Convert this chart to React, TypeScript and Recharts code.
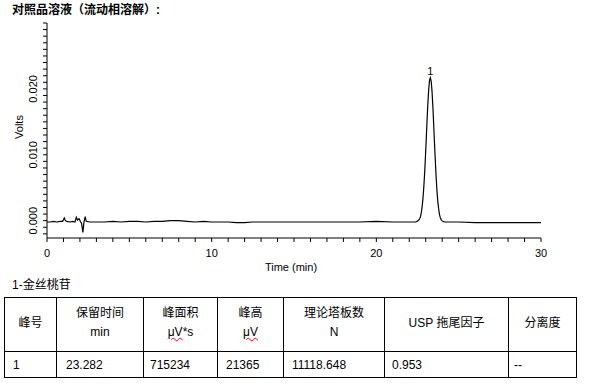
import React from "react";
import { LineChart, Line, XAxis, YAxis, ReferenceDot } from "recharts";

// Chromatogram trace (time in min, signal in volts)
const times = [
  0, 0.2, 0.4, 0.6, 0.8, 0.95, 1.05, 1.12, 1.2, 1.4, 1.55, 1.7, 1.78, 1.85, 1.95, 2.02, 2.1, 2.18,
  2.24, 2.32, 2.38, 2.6, 2.8, 3, 3.5, 4, 4.5, 5, 5.5, 6, 6.5, 7, 7.5, 8, 8.5, 9, 9.5, 10, 10.5, 11,
  11.5, 12, 12.5, 13, 14, 15, 16, 17, 18, 19, 20, 21, 22, 22.38, 22.48, 22.58, 22.63, 22.68, 22.73,
  22.78, 22.83, 22.88, 22.93, 22.98, 23.03, 23.08, 23.13, 23.18, 23.23, 23.28, 23.33, 23.38, 23.43,
  23.48, 23.53, 23.58, 23.63, 23.68, 23.73, 23.78, 23.83, 23.88, 23.93, 23.98, 24.08, 24.18, 25, 26,
  27, 28, 29, 30,
];
const volts = [
  -0.0002, -0.0002, -0.0001, -0.0002, -0.0001, -0.0001, 0.0004, 0.0, -0.0001, -0.0002, -0.0001,
  -0.0002, 0.0005, 0.0001, 0.0003, -0.0001, -0.0004, -0.0018, -0.0003, 0.0006, -0.0001, -0.0002,
  -0.0002, -0.0002, -0.0002, -0.0001, -0.0002, -0.0001, -0.0001, -0.0002, -0.0001, -0.0001, 0.0,
  0.0, -0.0001, -0.0002, -0.0001, -0.0002, -0.0002, -0.0002, -0.0003, -0.0003, -0.0002, -0.0002,
  -0.0002, -0.0002, -0.0002, -0.0002, -0.0002, -0.0002, -0.0001, -0.0002, -0.0002, -0.0002,
  -0.0001, 0.0001, 0.0003, 0.0006, 0.0012, 0.0021, 0.0033, 0.005, 0.0071, 0.0096, 0.0123, 0.0152,
  0.0178, 0.0199, 0.0213, 0.0217, 0.0212, 0.0197, 0.0175, 0.0148, 0.0119, 0.0092, 0.0067, 0.0046,
  0.003, 0.0019, 0.001, 0.0005, 0.0002, 0.0, -0.00015, -0.0002, -0.0002, -0.0003, -0.0003,
  -0.0003, -0.0003, -0.0003,
];

// Axes
const xMajor = [0, 10, 20, 30];
const xTicks = Array.from({ length: 31 }, (_, i) => i);
const yMajor = [0, 0.01, 0.02];
const yTicks = Array.from({ length: 33 }, (_, i) => (i - 2) / 1000);

// Peak
const peakName = "1";
const peakTime = 23.28;
const peakApex = 0.0217;

// Result table
const headerLine1 = ["峰号", "保留时间", "峰面积", "峰高", "理论塔板数", "USP 拖尾因子", "分离度"];
const headerLine2 = ["", "min", "μV*s", "μV", "N", "", ""];
const rowValues = ["1", "23.282", "715234", "21365", "11118.648", "0.953", "--"];
const colWidths = [52, 87, 74, 66, 101, 124, 68];
const cellPad = [8, 9, 6, 8, 8, 7, 5];

const data = times.map((t, i) => ({ t, v: volts[i] }));

const FONT = "'Liberation Sans', Arial, 'Noto Sans CJK SC', sans-serif";

const XTick = (props: any) => {
  const { x, payload } = props;
  if (!xMajor.includes(payload.value)) return null;
  return (
    <text x={x} y={253} dy="0.35em" textAnchor="middle" fontSize={11} fontFamily={FONT} fill="#000">
      {payload.value}
    </text>
  );
};

const YTick = (props: any) => {
  const { y, payload } = props;
  const isMajor = yMajor.some((m) => Math.abs(m - payload.value) < 1e-9);
  if (!isMajor) return null;
  return (
    <text
      x={0}
      y={0}
      transform={`translate(33, ${y}) rotate(-90)`}
      dy="0.35em"
      textAnchor="middle"
      fontSize={11}
      fontFamily={FONT}
      fill="#000"
    >
      {payload.value.toFixed(3)}
    </text>
  );
};

const wavy: React.CSSProperties = {
  textDecorationLine: "underline",
  textDecorationStyle: "wavy",
  textDecorationColor: "#e00",
  textDecorationThickness: 1,
};

const App = () => {
  return (
    <div
      style={{
        position: "absolute",
        left: 0,
        top: 0,
        width: 590,
        height: 387,
        background: "#fff",
        fontFamily: FONT,
        color: "#000",
      }}
    >
      <div style={{ position: "absolute", left: 12, top: 3, fontSize: 12, fontWeight: 700, lineHeight: "15px" }}>
        对照品溶液（流动相溶解）:
      </div>

      <div style={{ position: "absolute", left: 0, top: 0 }}>
        <LineChart width={590} height={290} data={data} margin={{ top: 23, right: 49, bottom: 22, left: 17 }}>
          <XAxis
            dataKey="t"
            type="number"
            domain={[0, 30]}
            ticks={xTicks}
            interval={0}
            tick={<XTick />}
            tickSize={4}
            height={30}
            axisLine={{ stroke: "#000" }}
            tickLine={{ stroke: "#000" }}
          />
          <YAxis
            type="number"
            domain={[-0.00263, 0.03]}
            ticks={yTicks}
            interval={0}
            tick={<YTick />}
            tickSize={4}
            width={30}
            allowDataOverflow
            axisLine={{ stroke: "#000" }}
            tickLine={{ stroke: "#000" }}
          />
          <Line
            type="linear"
            dataKey="v"
            stroke="#000"
            strokeWidth={1.2}
            dot={false}
            isAnimationActive={false}
          />
          <ReferenceDot
            x={peakTime}
            y={peakApex}
            r={0}
            fill="none"
            stroke="none"
            label={{ value: peakName, position: "top", offset: 3, fontSize: 11, fontFamily: FONT, fill: "#000" }}
          />
        </LineChart>
      </div>

      <div
        style={{
          position: "absolute",
          left: 8,
          top: 127,
          fontSize: 11,
          transform: "translate(-50%, -50%) rotate(-90deg)",
          marginLeft: 11,
          whiteSpace: "nowrap",
        }}
      >
        Volts
      </div>
      <div
        style={{
          position: "absolute",
          left: 291,
          top: 267,
          fontSize: 11,
          transform: "translate(-50%, -50%)",
          whiteSpace: "nowrap",
        }}
      >
        Time (min)
      </div>

      <div style={{ position: "absolute", left: 12, top: 278, fontSize: 12, lineHeight: "15px" }}>1-金丝桃苷</div>

      <table
        style={{
          position: "absolute",
          left: 4,
          top: 297,
          width: 573,
          borderCollapse: "collapse",
          tableLayout: "fixed",
          fontSize: 12,
        }}
      >
        <colgroup>
          {colWidths.map((w, i) => (
            <col key={i} style={{ width: w }} />
          ))}
        </colgroup>
        <tbody>
          <tr style={{ height: 54 }}>
            {headerLine1.map((h, i) => (
              <td
                key={i}
                style={{
                  border: "1px solid #000",
                  textAlign: "center",
                  verticalAlign: "middle",
                  lineHeight: "19px",
                  padding: "0 0 3px 0",
                }}
              >
                <div>{h}</div>
                {headerLine2[i] && (
                  <div>
                    {headerLine2[i].startsWith("μV") ? (
                      <>
                        <span style={wavy}>μV</span>
                        {headerLine2[i].slice(2)}
                      </>
                    ) : (
                      headerLine2[i]
                    )}
                  </div>
                )}
              </td>
            ))}
          </tr>
          <tr style={{ height: 26 }}>
            {rowValues.map((v, i) => (
              <td
                key={i}
                style={{
                  border: "1px solid #000",
                  textAlign: "left",
                  verticalAlign: "middle",
                  padding: `0 0 0 ${cellPad[i]}px`,
                  lineHeight: "16px",
                }}
              >
                {v}
              </td>
            ))}
          </tr>
        </tbody>
      </table>
    </div>
  );
};

export default App;
